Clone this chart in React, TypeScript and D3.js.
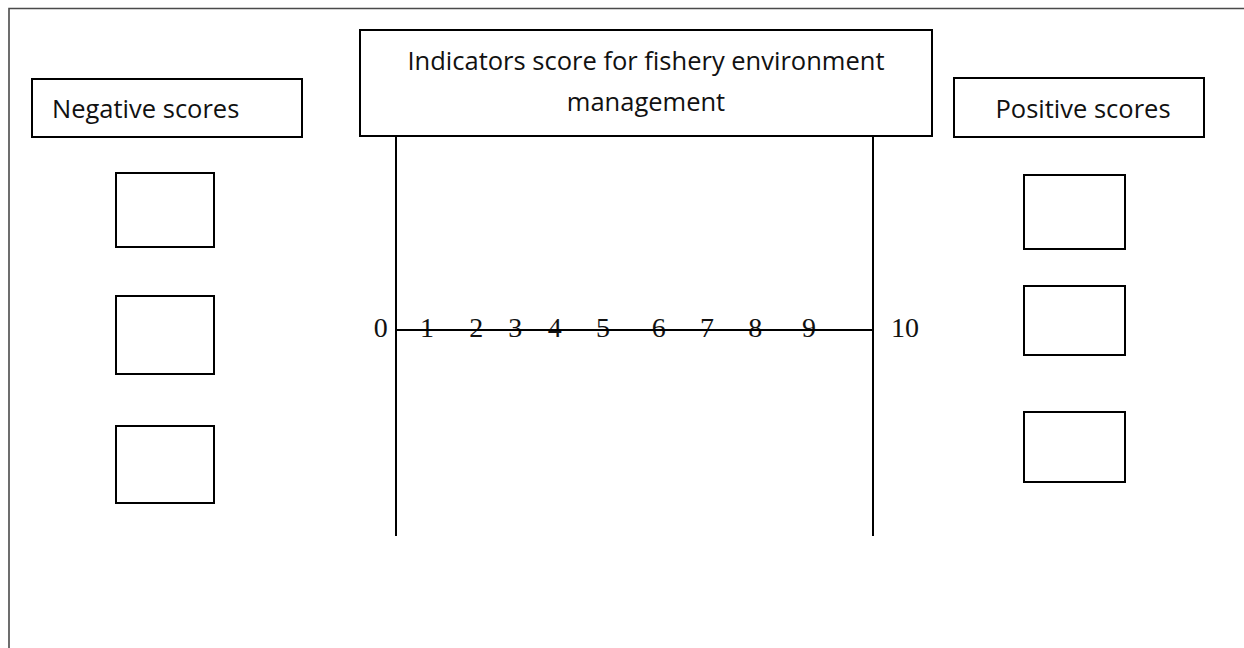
import * as React from 'react';
import * as d3 from 'd3';

const chartWidth = 1244;
const chartHeight = 648;

// texts
const titleLines = ['Indicators score for fishery environment', 'management'];
const negativeLabel = 'Negative scores';
const positiveLabel = 'Positive scores';

// score axis 0..10, labels sit on the line at these score positions
const scoreDomain = [0, 10];
const tickLabels = ['0', '1', '2', '3', '4', '5', '6', '7', '8', '9', '10'];
const tickLabelScores = [-0.32, 0.65, 1.68, 2.5, 3.33, 4.34, 5.51, 6.52, 7.53, 8.66, 10.67];

// empty indicator slots on both sides
const negativeSlots = ['neg-1', 'neg-2', 'neg-3'];
const positiveSlots = ['pos-1', 'pos-2', 'pos-3'];

const layout = {
    frame: { x: 9, y: 8.5 },
    titleBox: { x0: 360, x1: 932, y0: 30, y1: 136 },
    axis: { x0: 396, x1: 873, y: 330, yEnd: 536 },
    negBox: { x0: 32, x1: 302, y0: 79, y1: 137 },
    posBox: { x0: 954, x1: 1204, y0: 78, y1: 137 },
    negSlotX: [116, 214],
    posSlotX: [1024, 1125],
    negSlotY: [[173, 247], [296, 374], [426, 503]],
    posSlotY: [[175, 249], [286, 355], [412, 482]],
};

const sansFont = '"Open Sans", "Noto Sans", sans-serif';
const serifFont = '"Liberation Serif", "DejaVu Serif", serif';

function rect(g: d3.Selection<any, any, null, undefined>, x0: number, x1: number, y0: number, y1: number) {
    return g.append('rect')
        .attr('x', x0)
        .attr('y', y0)
        .attr('width', x1 - x0)
        .attr('height', y1 - y0)
        .attr('fill', 'none')
        .attr('stroke', '#000')
        .attr('stroke-width', 2);
}

export default function App() {
    const svgRef = React.useRef<SVGSVGElement | null>(null);

    React.useEffect(() => {
        const svg = d3.select(svgRef.current);
        svg.selectAll('*').remove();

        const g = svg.append('g');

        // outer frame (top & left only visible)
        g.append('path')
            .attr('d', `M${layout.frame.x},${chartHeight}V${layout.frame.y}H${chartWidth}`)
            .attr('fill', 'none')
            .attr('stroke', '#4a4a4a')
            .attr('stroke-width', 1.6);

        const xScale = d3.scaleLinear().domain(scoreDomain).range([layout.axis.x0, layout.axis.x1]);

        // title box
        const tb = layout.titleBox;
        rect(g, tb.x0, tb.x1, tb.y0, tb.y1);
        g.append('g').selectAll('text')
            .data(titleLines)
            .enter()
            .append('text')
            .attr('x', (tb.x0 + tb.x1) / 2)
            .attr('y', (d, i) => 70 + i * 41)
            .attr('text-anchor', 'middle')
            .style('font-family', sansFont)
            .style('font-size', '25.5px')
            .style('fill', '#111')
            .text(d => d);

        // vertical bounds of the score scale
        g.selectAll('line.bound')
            .data(scoreDomain)
            .enter()
            .append('line')
            .classed('bound', true)
            .attr('x1', d => xScale(d))
            .attr('x2', d => xScale(d))
            .attr('y1', tb.y1)
            .attr('y2', layout.axis.yEnd)
            .attr('stroke', '#000')
            .attr('stroke-width', 2);

        // tick labels
        g.append('g').selectAll('text')
            .data(tickLabels)
            .enter()
            .append('text')
            .attr('x', (d, i) => xScale(tickLabelScores[i]))
            .attr('y', layout.axis.y + 7)
            .attr('text-anchor', 'middle')
            .style('font-family', serifFont)
            .style('font-size', '28px')
            .style('fill', '#111')
            .text(d => d);

        // score line drawn over labels
        g.append('line')
            .attr('x1', xScale(0))
            .attr('x2', xScale(10))
            .attr('y1', layout.axis.y)
            .attr('y2', layout.axis.y)
            .attr('stroke', '#000')
            .attr('stroke-width', 2);

        // side headers
        const nb = layout.negBox;
        rect(g, nb.x0, nb.x1, nb.y0, nb.y1);
        g.append('text')
            .attr('x', 52)
            .attr('y', 118)
            .style('font-family', sansFont)
            .style('font-size', '25.5px')
            .style('fill', '#111')
            .text(negativeLabel);

        const pb = layout.posBox;
        rect(g, pb.x0, pb.x1, pb.y0, pb.y1);
        g.append('text')
            .attr('x', 1083)
            .attr('y', 118)
            .attr('text-anchor', 'middle')
            .style('font-family', sansFont)
            .style('font-size', '25.5px')
            .style('fill', '#111')
            .text(positiveLabel);

        // empty slots
        negativeSlots.forEach((s, i) => {
            rect(g, layout.negSlotX[0], layout.negSlotX[1], layout.negSlotY[i][0], layout.negSlotY[i][1]);
        });
        positiveSlots.forEach((s, i) => {
            rect(g, layout.posSlotX[0], layout.posSlotX[1], layout.posSlotY[i][0], layout.posSlotY[i][1]);
        });
    }, []);

    return <svg
        ref={svgRef}
        width={chartWidth}
        height={chartHeight}
        style={{ position: 'absolute', left: 0, top: 0, background: '#fff' }}>
    </svg>;
}
